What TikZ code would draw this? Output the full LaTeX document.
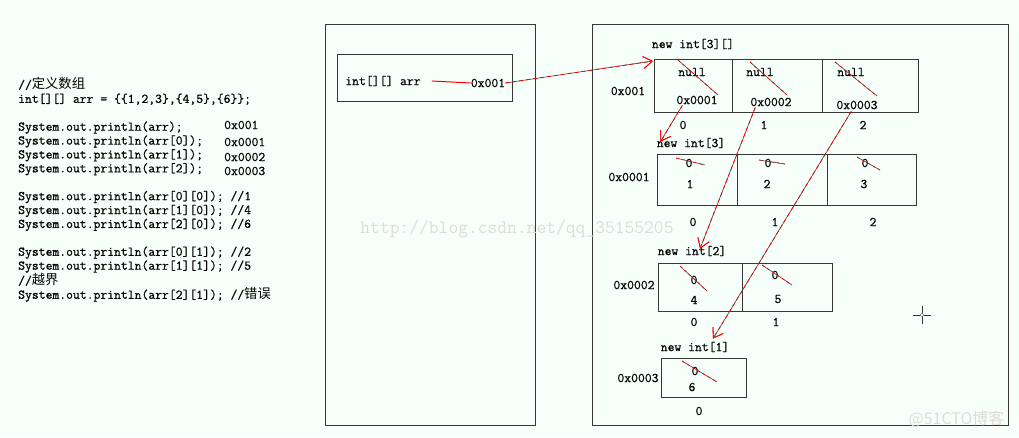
\documentclass[tikz,border=0pt]{standalone}
\usepackage{fontspec}
\newfontfamily\cjk{Noto Sans CJK SC}
\newfontfamily\codefont{Latin Modern Mono}[FakeBold=0.6]
\usetikzlibrary{arrows.meta}

\definecolor{bgmint}{RGB}{247,255,250}
\definecolor{boxline}{RGB}{55,55,55}
\definecolor{markgray}{RGB}{220,220,220}

\tikzset{
  code/.style={font=\fontsize{13.3}{13.9}\selectfont\codefont, inner sep=0pt},
  frame/.style={draw=boxline, line width=1pt, inner sep=0pt},
  cell/.style={draw=boxline, line width=1pt, inner sep=0pt, anchor=north west},
  ptr/.style={draw=black!75, line width=0.6pt,
              postaction={draw=red, line width=0.8pt, dash pattern=on 4pt off 3pt},
              -{Straight Barb[red, length=9pt, width=12pt, line width=0.8pt]}},
  strike/.style={draw=black!75, line width=0.6pt,
                 postaction={draw=red, line width=0.7pt, dash pattern=on 3pt off 3pt}},
}

\begin{document}
\begin{tikzpicture}[x=1pt,y=-1pt]
\fill[bgmint] (0,0) rectangle (1019,437);
\useasboundingbox (0,0) rectangle (1019,437);

% source code
\node[code, anchor=north west, align=left] (src) at (18,77.5) {%
//{\cjk 定义数组}\\
int[][] arr = \{\{1,2,3\},\{4,5\},\{6\}\};\\[13.9pt]
System.out.println(arr);\\
System.out.println(arr[0]);\\
System.out.println(arr[1]);\\
System.out.println(arr[2]);\\[13.9pt]
System.out.println(arr[0][0]); //1\\
System.out.println(arr[1][0]); //4\\
System.out.println(arr[2][0]); //6\\[13.9pt]
System.out.println(arr[0][1]); //2\\
System.out.println(arr[1][1]); //5\\
//{\cjk 越界}\\
System.out.println(arr[2][1]); //{\cjk 错误}};

\begin{scope}[every node/.style={code, anchor=west}]
    \node (out0) at (224,125) {0x001};
    \node (out1) at (224,142) {0x0001};
    \node (out2) at (224,157) {0x0002};
    \node (out3) at (224,171) {0x0003};
\end{scope}

% stack and heap
\node[frame, minimum width=210, minimum height=401] (stack) at (430,224.5) {};
\node[frame, minimum width=416, minimum height=401] (heap) at (800,224.5) {};
\node[frame, minimum width=175, minimum height=47] (var) at (424.5,77.5) {};

% array cells
\begin{scope}[every node/.style={cell}]
    \node[minimum width=78, minimum height=53] (a0) at (654,59) {};
    \node[minimum width=90, minimum height=53] (a1) at (732,59) {};
    \node[minimum width=96, minimum height=53] (a2) at (822,59) {};
    \node[minimum width=80, minimum height=51] (b0) at (657,154) {};
    \node[minimum width=90, minimum height=51] (b1) at (737,154) {};
    \node[minimum width=89, minimum height=51] (b2) at (827,154) {};
    \node[minimum width=84, minimum height=48] (c0) at (658,263) {};
    \node[minimum width=90, minimum height=48] (c1) at (742,263) {};
    \node[minimum width=85, minimum height=39] (d0) at (661,358) {};
\end{scope}

\begin{scope}[every node/.style={code}]
    \node (varname) at (383,81) {int[][] arr};
    \node (varval) at (488,83) {0x001};

    \node (la) at (693,44) {new int[3][]};
    \node (lb) at (691,143) {new int[3]};
    \node (lc) at (692,251) {new int[2]};
    \node (ld) at (695,347) {new int[1]};

    \node (adra) at (628,91) {0x001};
    \node (adrb) at (629,177) {0x0001};
    \node (adrc) at (634,285) {0x0002};
    \node (adrd) at (638,378) {0x0003};

    \node (na0) at (692,72) {null};
    \node (na1) at (760,72) {null};
    \node (na2) at (851,72) {null};
    \node (pa0) at (697,100) {0x0001};
    \node (pa1) at (771,102) {0x0002};
    \node (pa2) at (857,105) {0x0003};

    \node (zb0) at (689,163) {0};
    \node (zb1) at (768,163) {0};
    \node (zb2) at (865,163) {0};
    \node (vb0) at (690,184) {1};
    \node (vb1) at (767,184) {2};
    \node (vb2) at (864,184) {3};

    \node (zc0) at (694,280) {0};
    \node (zc1) at (775,275) {0};
    \node (vc0) at (694,300) {4};
    \node (vc1) at (778,299) {5};

    \node (zd0) at (695,371) {0};
    \node (vd0) at (692,387) {6};

    \node (ia0) at (683,125) {0};
    \node (ia1) at (764,125) {1};
    \node (ia2) at (863,125) {2};
    \node (ib0) at (693,222) {0};
    \node (ib1) at (775,222) {1};
    \node (ib2) at (873,222) {2};
    \node (ic0) at (694,322) {0};
    \node (ic1) at (776,322) {1};
    \node (id0) at (699,411) {0};
\end{scope}

% crossed out defaults
\foreach \n/\ax/\ay/\bx/\by in {na0/-14/-12/26/23, na1/-10/-10/27/23, na2/-16/-10/26/24,
    zb0/-13/-5/16/2, zb1/-9/-3/17/1, zb2/-8/-6/15/7,
    zc0/-14/-14/13/11, zc1/-13/-10/17/10, zd0/-13/-10/22/11}
    \draw[strike] ([shift={(\ax,\ay)}]\n.center) -- ([shift={(\bx,\by)}]\n.center);

% references
\draw[red, line width=1pt] ([xshift=11pt]varname.east) -- (varval.west);
\draw[ptr] (varval.east) -- ([shift={(-1,2)}]a0.north west);
\draw[ptr] ([shift={(6,1)}]pa0.south west) -- ([shift={(4,4)}]lb.north west);
\draw[ptr] ([shift={(5,1)}]pa1.south west) -- ([shift={(8,3)}]lc.north);
\draw[ptr] ([shift={(15,2)}]pa2.south west) -- ([shift={(18,-3)}]ld.north);

% cursor
\coordinate (cursor) at (922,315);
\draw[black!80, line width=1pt] ([xshift=-9pt]cursor) -- ([xshift=9pt]cursor)
    ([yshift=-9pt]cursor) -- ([yshift=9pt]cursor);
\draw[black!60, fill=white] (cursor) circle (1.8pt);

% watermarks
\node[font=\fontsize{19}{20}\selectfont\ttfamily, text=markgray] (csdn) at (517,229) {http://blog.csdn.net/qq\_35155205};
\node[font=\fontsize{16}{17}\selectfont\cjk, text=markgray, anchor=east] (cto) at (1008,419) {@51CTO博客};
\end{tikzpicture}
\end{document}
